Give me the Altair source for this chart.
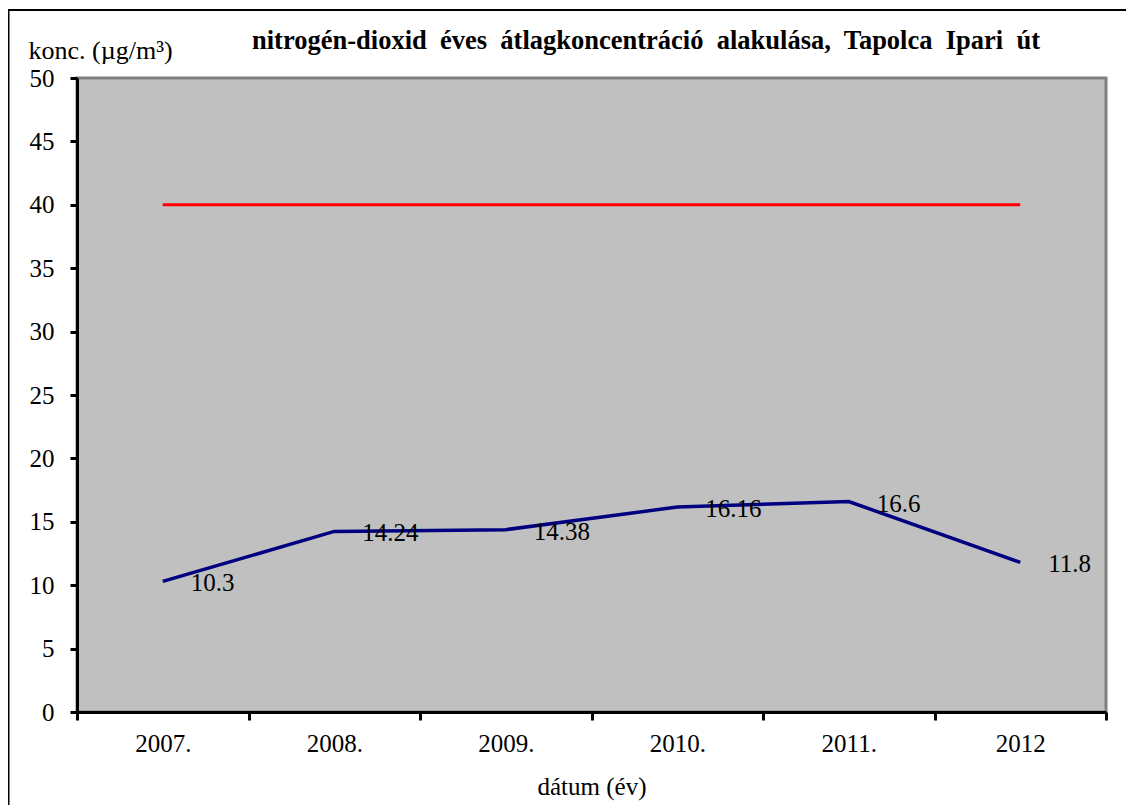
import altair as alt
import pandas as pd

years = ["2007.", "2008.", "2009.", "2010.", "2011.", "2012"]
no2 = [10.3, 14.24, 14.38, 16.16, 16.6, 11.8]
limit = [40, 40, 40, 40, 40, 40]
labels = ["10.3", "14.24", "14.38", "16.16", "16.6", "11.8"]
title_words = ["nitrogén-dioxid", "éves", "átlagkoncentráció", "alakulása,",
               "Tapolca", "Ipari", "út"]
title_text = "\u00a0 ".join(title_words)

df = pd.DataFrame({"ev": years, "no2": no2, "limit": limit, "lab": labels})

FONT = "'Liberation Serif', 'Times New Roman', Times, serif"
W, H = 1029, 634

xenc = alt.X("ev:N", sort=years,
             scale=alt.Scale(paddingInner=0, paddingOuter=0),
             axis=alt.Axis(title="dátum (év)", labelAngle=0, tickBand="extent",
                           tickSize=8, tickWidth=3, tickColor="black",
                           domainColor="black", domainWidth=3,
                           labelFont=FONT, labelFontSize=25, labelColor="black",
                           labelPadding=11, titleFont=FONT, titleFontSize=25,
                           titleFontWeight="normal", titleColor="black",
                           titlePadding=18, grid=False))
yscale = alt.Scale(domain=[0, 50])
yaxis = alt.Axis(title="konc. (µg/m³)", values=list(range(0, 51, 5)),
                 tickSize=7, tickWidth=3, tickColor="black",
                 domainColor="black", domainWidth=3,
                 labelFont=FONT, labelFontSize=25, labelColor="black",
                 labelPadding=16, grid=False,
                 titleAngle=0, titleX=-49, titleY=-28, titleAlign="left",
                 titleBaseline="middle", titleFont=FONT, titleFontSize=26,
                 titleFontWeight="normal", titleColor="black")

base = alt.Chart(df)

red = base.mark_line(color="#FF0000", strokeWidth=3).encode(
    x=xenc, y=alt.Y("limit:Q", scale=yscale, axis=yaxis))
blue = base.mark_line(color="#000080", strokeWidth=3.5).encode(
    x=alt.X("ev:N", sort=years), y=alt.Y("no2:Q"))
txt = base.mark_text(align="left", baseline="middle", dx=28, dy=2,
                     font=FONT, fontSize=25, color="black").encode(
    x=alt.X("ev:N", sort=years), y=alt.Y("no2:Q"), text="lab:N")

one = alt.Data(values=[{"t": title_text}])
title_mark = alt.Chart(one).mark_text(
    align="center", baseline="alphabetic", font=FONT, fontSize=26.5,
    fontWeight="bold", color="black").encode(
    x=alt.value(569), y=alt.value(-29), text="t:N")
top_rule = alt.Chart(one).mark_rule(color="black", strokeWidth=2).encode(
    x=alt.value(-69), x2=alt.value(1300), y=alt.value(-68))
left_rule = alt.Chart(one).mark_rule(color="black", strokeWidth=2).encode(
    x=alt.value(-68.5), y=alt.value(-69), y2=alt.value(900))

chart = alt.layer(red, blue, txt, title_mark, top_rule, left_rule).properties(
    width=W, height=H,
    autosize=alt.AutoSizeParams(type="none"),
    padding={"left": 69, "top": 70, "right": 20, "bottom": 93},
    background="white",
).configure_view(fill="#C0C0C0", stroke="#808080", strokeWidth=3)

chart.save("out.html", embed_options={"renderer": "svg", "actions": False})
